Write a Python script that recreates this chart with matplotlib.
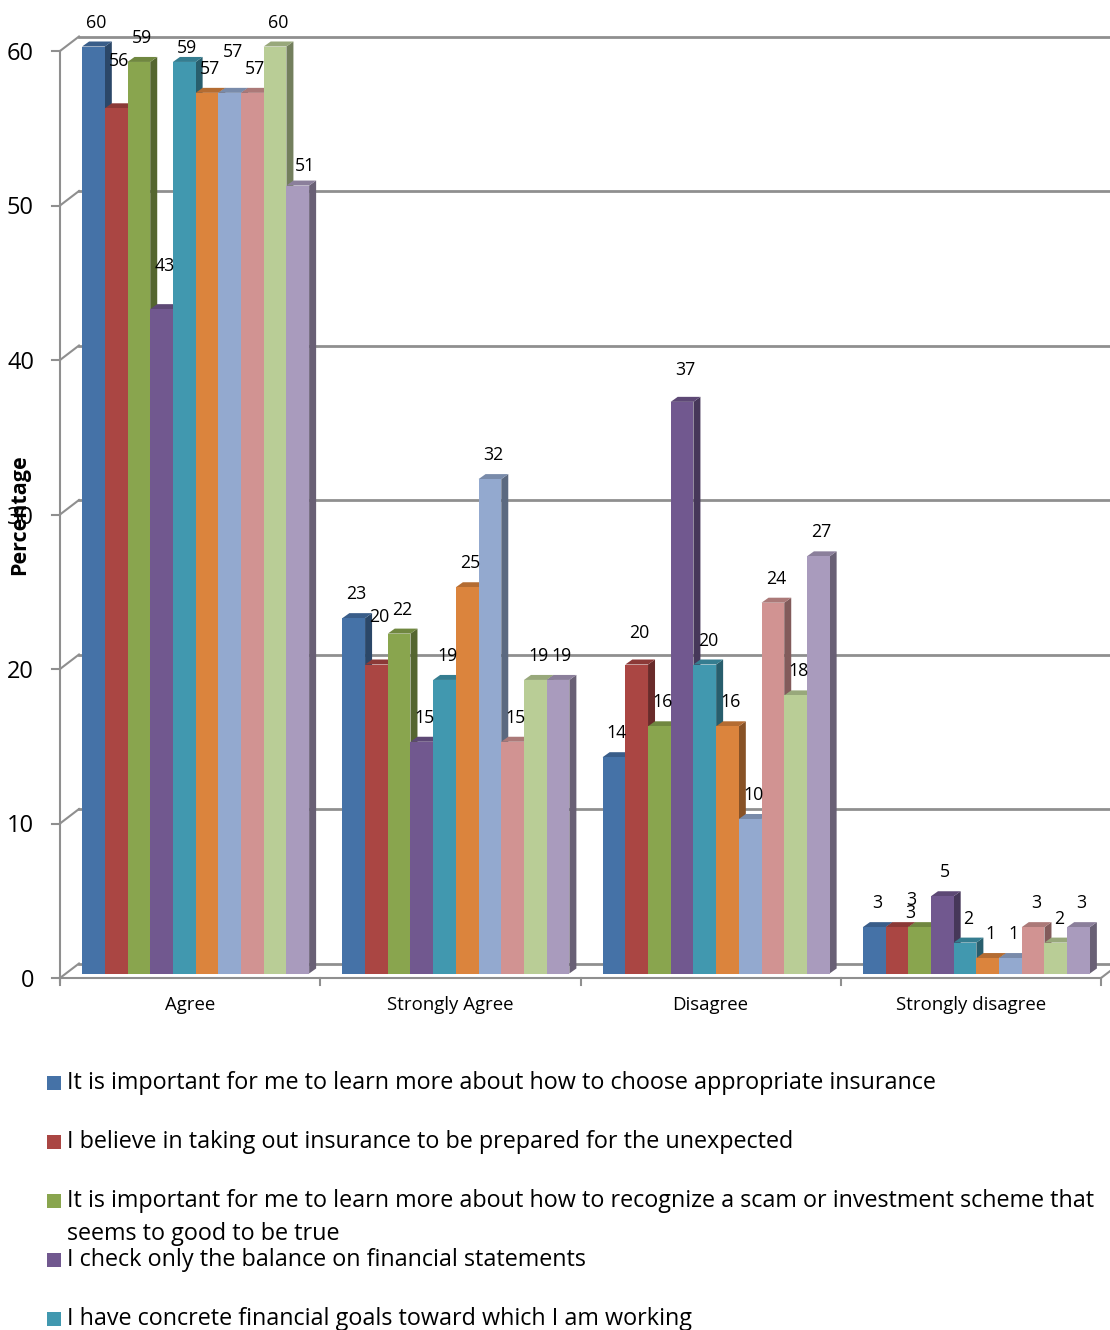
import numpy as np
import matplotlib.pyplot as plt
from matplotlib.patches import Polygon, Rectangle
from matplotlib.colors import to_rgb

plt.rcParams['font.family'] = ['Open Sans', 'DejaVu Sans']

# Respuestas por categoría (porcentaje) para cada afirmación
categorias = ['Agree', 'Strongly Agree', 'Disagree', 'Strongly disagree']
serie_1 = [60, 23, 14, 3]
serie_2 = [56, 20, 20, 3]
serie_3 = [59, 22, 16, 3]
serie_4 = [43, 15, 37, 5]
serie_5 = [59, 19, 20, 2]
serie_6 = [57, 25, 16, 1]
serie_7 = [57, 32, 10, 1]
serie_8 = [57, 15, 24, 3]
serie_9 = [60, 19, 18, 2]
serie_10 = [51, 19, 27, 3]
series = [serie_1, serie_2, serie_3, serie_4, serie_5,
          serie_6, serie_7, serie_8, serie_9, serie_10]

etiquetas_leyenda = [
    'It is important for me to learn more about how to choose appropriate insurance',
    'I believe in taking out insurance to be prepared for the unexpected',
    'It is important for me to learn more about how to recognize a scam or investment scheme that\nseems to good to be true',
    'I check only the balance on financial statements',
    'I have concrete financial goals toward which I am working',
]
ticks_y = [0, 10, 20, 30, 40, 50, 60]

colores = ['#4572A7', '#AA4643', '#89A54E', '#71588F', '#4198AF',
           '#DB843D', '#93A9CF', '#D19392', '#B9CD96', '#A99BBD']

W, H = 1110, 1330
fig = plt.figure(figsize=(W / 100, H / 100), dpi=100)
ax = fig.add_axes([60 / W, (H - 978) / H, 1041 / W, 927 / H])
ax.set_xlim(-0.5, 3.5)
ax.set_ylim(0, 60)
ax.axis('off')

# pixeles -> unidades de datos
PX_X = 1041 / 4
PX_Y = 927 / 60
def dx(p):
    return p / PX_X
def dy(p):
    return p / PX_Y

GRIS = '#8f8f8f'
# pared del fondo y pared lateral
for t in ticks_y:
    ax.plot([dx(-8) - 0.5, -0.5], [t, t], color=GRIS, lw=1.5, clip_on=False)
    ax.plot([-0.5, -0.5 + dx(19)], [t, t + dy(14.5)], color=GRIS, lw=1.5, clip_on=False)
    ax.plot([-0.5 + dx(19), 3.6], [t + dy(14.5), t + dy(14.5)], color=GRIS, lw=2, clip_on=False)
    ax.text(-0.5 - dx(26), t - dy(3), str(t), ha='right', va='center', fontsize=17)
ax.plot([-0.5, -0.5], [-dy(4), 60], color=GRIS, lw=1.5, clip_on=False)
# borde frontal del piso
ax.plot([-0.5, 3.5], [0, 0], color=GRIS, lw=1.5, clip_on=False)
ax.plot([3.5, 3.5 + dx(19)], [0, dy(14.5)], color=GRIS, lw=1.5, clip_on=False)
for b in np.arange(-0.5, 4.0, 1.0):
    ax.plot([b, b], [0, -dy(7)], color=GRIS, lw=1.5, clip_on=False)
for i, c in enumerate(categorias):
    ax.text(i, -dy(27), c, ha='center', va='center', fontsize=13.4)

# barras con efecto 3D
n = len(series)
ancho = dx(22.7)
fx, fy = dx(5.5), dy(4.5)
px_, py_ = dx(7), dy(5)
inicio = np.arange(len(categorias)) - n * ancho / 2 + fx

def oscurecer(c, f):
    r, g, b = to_rgb(c)
    return (r * f, g * f, b * f)

for j, vals in enumerate(series):
    xs = inicio + j * ancho
    for x0, v in zip(xs, vals):
        x1 = x0 + ancho
        lado = Polygon([(x1, fy), (x1 + px_, fy + py_), (x1 + px_, v + fy + py_), (x1, v + fy)],
                       closed=True, fc=oscurecer(colores[j], 0.62), ec='none', zorder=3,
                       clip_on=False)
        tapa = Polygon([(x0, v + fy), (x0 + px_, v + fy + py_), (x1 + px_, v + fy + py_), (x1, v + fy)],
                       closed=True, fc=oscurecer(colores[j], 0.82), ec='none', zorder=3,
                       clip_on=False)
        ax.add_patch(lado)
        ax.add_patch(tapa)
    ax.bar(xs, vals, width=ancho, bottom=fy, align='edge', color=colores[j],
           edgecolor='none', zorder=3, clip_on=False)

# desplazamientos de algunas etiquetas (px)
ajustes = {(0, 1): (0, 23), (0, 3): (0, 19), (0, 4): (0, -10), (0, 6): (0, 17),
           (0, 9): (4, -4), (1, 1): (0, 24), (2, 1): (0, 8), (2, 3): (0, 8),
           (3, 1): (10, -10), (3, 2): (-11, 3)}
for j, vals in enumerate(series):
    xs = inicio + j * ancho
    for i, (x0, v) in enumerate(zip(xs, vals)):
        ox, oy = ajustes.get((i, j), (0, 0))
        ax.text(x0 + ancho / 2 + dx(3 + ox), v + fy + dy(24 + oy), str(v),
                ha='center', va='center', fontsize=12.8, zorder=10, clip_on=False)

fig.text(20 / W, 1 - 515 / H, 'Percentage', rotation=90, ha='center', va='center',
         fontsize=15.5, fontweight='bold')

# leyenda
fila = 1083
for j, etiqueta in enumerate(etiquetas_leyenda):
    fig.add_artist(Rectangle((47 / W, 1 - (fila + 7) / H), 14 / W, 14 / H,
                             transform=fig.transFigure, fc=colores[j], ec='none'))
    for k, linea in enumerate(etiqueta.split('\n')):
        fig.text(67 / W, 1 - (fila + 33 * k) / H, linea, ha='left', va='center', fontsize=16.8)
    fila += 59

fig.savefig('out.png', dpi=100)
